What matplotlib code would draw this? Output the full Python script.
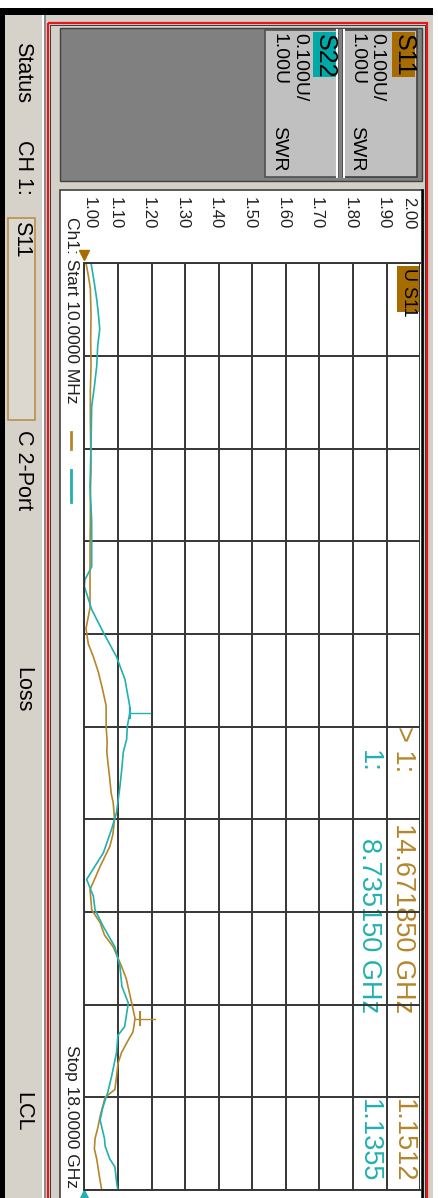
import numpy as np
import matplotlib
matplotlib.use("Agg")
import matplotlib.pyplot as plt
from matplotlib.patches import Rectangle
from matplotlib.transforms import blended_transform_factory, offset_copy

# trace data (frequency in GHz, SWR)
s11_freq = [0.0, 0.25, 0.5, 1.0, 1.5, 2.0, 2.5, 3.0, 3.5, 4.0, 4.5, 5.0, 5.5, 6.0,
            6.7, 7.1, 7.4, 7.65, 7.95, 8.3, 8.6, 9.0, 9.3, 9.5, 9.8, 10.03, 10.3, 10.48, 10.8,
            11.1, 11.33, 11.72, 12.17, 12.4, 12.56, 12.81, 13.05, 13.28, 13.66, 13.9, 14.05, 14.25,
            14.67, 14.93, 15.1, 15.33, 15.55, 15.8, 16.05, 16.2, 16.57, 16.8, 17.0, 17.2, 17.4,
            17.74, 18.0]
s11_swr = [1.005, 1.012, 1.018, 1.020, 1.019, 1.020, 1.018, 1.018, 1.019, 1.020, 1.018, 1.018, 1.017, 1.017,
           1.017, 1.005, 1.012, 1.027, 1.042, 1.055, 1.065, 1.065, 1.068, 1.067, 1.072, 1.076, 1.080,
           1.086, 1.090, 1.085, 1.076, 1.047, 1.017, 1.020, 1.022, 1.047, 1.060, 1.086, 1.111, 1.125,
           1.130, 1.137, 1.151, 1.145, 1.130, 1.111, 1.100, 1.096, 1.091, 1.062, 1.047, 1.040, 1.032,
           1.030, 1.037, 1.045, 1.052]

s22_freq = [0.0, 0.4, 0.71, 1.0, 1.29, 1.6, 2.0, 2.4, 2.79, 3.5, 4.34, 5.0, 5.9, 6.15,
            6.28, 6.73, 7.18, 7.65, 8.09, 8.6, 8.735, 9.0, 9.25, 9.5, 9.8, 10.17, 10.67,
            11.0, 11.45, 11.97, 12.3, 12.56, 12.89, 13.28, 13.66, 14.05, 14.37,
            14.83, 15.0, 15.33, 15.8, 16.1, 16.4, 16.64, 17.0, 17.15, 17.4, 17.55, 17.9, 18.0]
s22_swr = [1.020, 1.030, 1.037, 1.042, 1.046, 1.040, 1.037, 1.030, 1.022, 1.020, 1.017, 1.022, 1.022, 1.002,
           1.000, 1.022, 1.057, 1.096, 1.121, 1.135, 1.1355, 1.128, 1.126, 1.116, 1.112, 1.106, 1.096,
           1.081, 1.057, 1.007, 1.027, 1.032, 1.057, 1.091, 1.106, 1.112, 1.131,
           1.120, 1.100, 1.096, 1.081, 1.070, 1.055, 1.047, 1.060, 1.062, 1.076, 1.091, 1.097, 1.100]

swr_ticks = [1.00, 1.10, 1.20, 1.30, 1.40, 1.50, 1.60, 1.70, 1.80, 1.90, 2.00]
f_start, f_stop = 0.01, 18.0
mkr_s11 = (14.671850, 1.1512)
mkr_s22 = (8.735150, 1.1355)

BROWN = "#b5862a"
BROWN_BG = "#a66c00"
TEAL = "#22b0b0"
TEAL_BG = "#00a8a8"
GRID = "#363636"

plt.rcParams["font.family"] = ["Liberation Sans Narrow", "Liberation Sans", "DejaVu Sans"]
NARROW = ["Liberation Sans Narrow", "Liberation Sans", "DejaVu Sans"]
REG = ["Liberation Sans", "DejaVu Sans"]

W, H = 438, 1198
fig = plt.figure(figsize=(W / 100, H / 100), dpi=100)
bg = fig.add_axes([0, 0, 1, 1])
bg.set_xlim(0, W)
bg.set_ylim(H, 0)
bg.axis("off")


def rect(x, y, w, h, **kw):
    bg.add_patch(Rectangle((x, y), w, h, **kw))


def vtext(x, y, s, size, color="black", va="top", family=NARROW):
    # screen is turned 90 degrees, text runs top to bottom
    bg.text(x, y, s, rotation=-90, ha="center", va=va, fontsize=size,
            color=color, family=family)


# window chrome
rect(0, 8, 433, 7, color="black", lw=0)
rect(0, 8, 5, H, color="black", lw=0)
rect(5, 15, 37, H, color="#d6d2ca", lw=0)
rect(42, 15, 391, H, color="#d4d0c8", lw=0)
rect(42, 15, 1.5, H, color="white", lw=0)
rect(44, 15, 2, H, color="#8a8a8a", lw=0)
rect(48, 23, 379, H, fill=False, ec="#e5161c", lw=1.6)
rect(50, 25, 375, H, fill=False, ec="#3a3a3a", lw=0.7)

# header with the trace boxes
rect(59.5, 27.5, 362, 153, fc="#808080", ec="#404040", lw=1.0)
rect(343, 30, 74, 147, fc="#c0c0c0", ec="#404040", lw=1.2)
bg.plot([343.5, 343.5], [30, 177], color="white", lw=1.5)
rect(265, 30, 73, 147, fc="#c0c0c0", ec="#505050", lw=1.2)
bg.plot([337, 337], [30, 177], color="white", lw=1.5)

rect(392, 32, 23, 45, color=BROWN_BG, lw=0)
vtext(404, 34, "S11", 18)
vtext(377, 33, "0.100U/", 14, family=REG)
vtext(357, 33, "1.00U", 14, family=REG)
vtext(357, 171, "SWR", 14, va="bottom", family=REG)

rect(313, 32, 24, 45, color=TEAL_BG, lw=0)
vtext(325, 34, "S22", 18)
vtext(300, 33, "0.100U/", 14, family=REG)
vtext(279, 33, "1.00U", 14, family=REG)
vtext(279, 171, "SWR", 14, va="bottom", family=REG)

# plot panel
rect(59.5, 190, 363, 1010, fc="white", ec="#404040", lw=1.2)
bg.plot([421.5, 421.5], [190, H], color="black", lw=1.8)

# status bar
vtext(23, 42, "Status", 15.5)
vtext(23, 140, "CH 1:", 15.5)
rect(8, 218, 27, 202, fc="#dcd8d0", ec="#b8904a", lw=1.2)
vtext(22, 221, "S11", 15.5)
vtext(23, 430, "C 2-Port", 15.5)
vtext(23, 667, "Loss", 15.5)
vtext(23, 1092, "LCL", 15.5)

# diagram: SWR across, frequency downwards
ax = fig.add_axes([84.3 / W, 1 - 1190 / H, 336 / W, (1190 - 263.3) / H])
ax.set_xlim(swr_ticks[0], swr_ticks[-1])
ax.set_ylim(f_stop, f_start)
ax.set_xticks(swr_ticks)
ax.set_yticks(np.linspace(f_start, f_stop, 11))
ax.grid(True, color=GRID, lw=1.4)
ax.tick_params(length=0, labelbottom=False, labelleft=False)
ax.patch.set_alpha(0)
for side in ["left", "top", "bottom"]:
    ax.spines[side].set_color(GRID)
    ax.spines[side].set_linewidth(1.4)
ax.spines["right"].set_visible(False)

ax.plot(s11_swr, s11_freq, color=BROWN, lw=1.2)
ax.plot(s22_swr, s22_freq, color=TEAL, lw=1.2)

# markers
ax.plot([mkr_s22[1], mkr_s22[1] + 0.06], [mkr_s22[0]] * 2, color=TEAL, lw=1.0)
ax.plot([mkr_s22[1]] * 2, [mkr_s22[0] - 0.1, mkr_s22[0] + 0.1], color=TEAL, lw=1.5)
ax.plot([mkr_s11[1], mkr_s11[1] + 0.06], [mkr_s11[0]] * 2, color=BROWN, lw=1.0)
ax.plot([mkr_s11[1] + 0.015] * 2, [mkr_s11[0] - 0.12, mkr_s11[0] + 0.12], color=BROWN, lw=1.5)

ax.plot(swr_ticks[0], f_start, marker="v", ms=7, color=BROWN_BG, clip_on=False,
        transform=offset_copy(ax.transData, fig=fig, y=8, units="dots"))
ax.plot(swr_ticks[0], f_stop, marker="^", ms=7, color=TEAL, clip_on=False,
        transform=offset_copy(ax.transData, fig=fig, y=-5, units="dots"))

# scale labels above the grid
tx = blended_transform_factory(ax.transData, bg.transData)
for i, v in enumerate(swr_ticks):
    dx = 5 if i == 0 else (-12 if i == len(swr_ticks) - 1 else -3)
    bg.text(v, 197, f"{v:.2f}", rotation=-90, ha="center", va="top", fontsize=12,
            family=REG, color="#202020",
            transform=offset_copy(tx, fig=fig, x=dx, units="dots"))

vtext(71, 217, "Ch1: Start 10.0000 MHz", 12.5, color="#202020", family=REG)
vtext(71, 1188, "Stop 18.0000 GHz", 12.5, color="#202020", va="bottom", family=REG)
bg.plot([71, 71], [432, 449], color=BROWN, lw=2)
bg.plot([71, 71], [470, 502], color=TEAL, lw=2)

# trace tag
rect(397, 266, 22, 46, color=BROWN_BG, lw=0)
vtext(408, 268, "U S11", 13)

# marker readouts
vtext(403, 726, "> 1:", 19.5, color=BROWN)
vtext(369, 750, "1:", 19.5, color=TEAL)
vtext(403, 1013, f"{mkr_s11[0]:.6f} GHz", 19.5, color=BROWN, va="bottom")
vtext(369, 1013, f"{mkr_s22[0]:.6f} GHz", 19.5, color=TEAL, va="bottom")
vtext(403, 1099, f"{mkr_s11[1]:.4f}", 19.5, color=BROWN)
vtext(369, 1099, f"{mkr_s22[1]:.4f}", 19.5, color=TEAL)

fig.savefig("out.png", dpi=100)
